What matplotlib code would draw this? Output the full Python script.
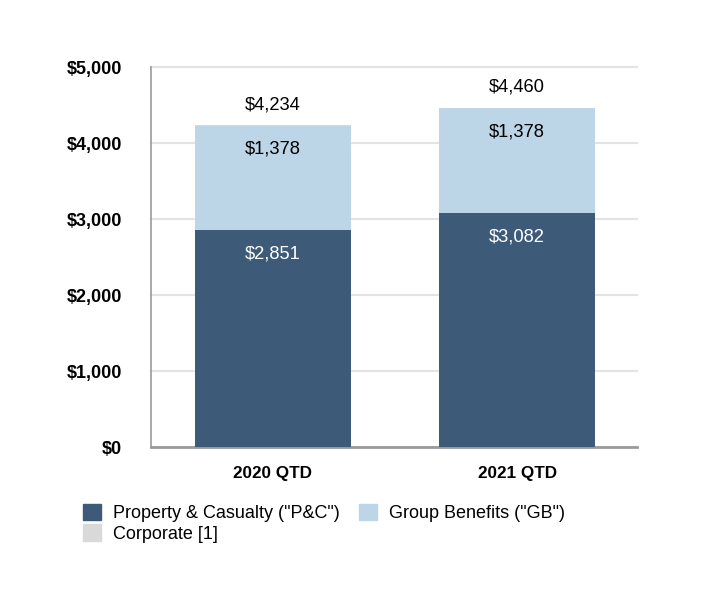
import matplotlib.pyplot as plt
from matplotlib.patches import Patch

plt.rcParams['font.family'] = ['Liberation Sans', 'DejaVu Sans']

categories = ['2020 QTD', '2021 QTD']
pc = [2851, 3082]
gb = [1378, 1378]
corporate = [5, 0]
totals = [4234, 4460]
yticks = [0, 1000, 2000, 3000, 4000, 5000]

c_pc = '#3d5a78'
c_gb = '#bcd6e8'
c_corp = '#d9d9d9'

fig = plt.figure(figsize=(7.02, 6.0), dpi=100)
ax = fig.add_axes([0.215, 0.255, 0.692, 0.633])

x = range(len(categories))
w = 0.64
ax.bar(x, pc, w, color=c_pc, zorder=3)
ax.bar(x, gb, w, bottom=pc, color=c_gb, zorder=3)
base = [a + b for a, b in zip(pc, gb)]
ax.bar(x, corporate, w, bottom=base, color=c_corp, zorder=3)

for i in x:
    ax.annotate(f'${pc[i]:,}', (i, pc[i]), xytext=(0, -17), textcoords='offset points',
                ha='center', va='center', color='white', fontsize=13.2, zorder=4)
    ax.annotate(f'${gb[i]:,}', (i, base[i]), xytext=(0, -17), textcoords='offset points',
                ha='center', va='center', color='black', fontsize=13.2, zorder=4)
    ax.annotate(f'${totals[i]:,}', (i, totals[i]), xytext=(0, 15), textcoords='offset points',
                ha='center', va='center', color='black', fontsize=13.2, zorder=4)

ax.set_xlim(-0.5, 1.49)
ax.set_ylim(0, 5000)
ax.set_yticks(yticks)
ax.set_yticklabels([f'${v:,}' for v in yticks], fontweight='bold', fontsize=13)
ax.set_xticks(list(x))
ax.set_xticklabels(categories, fontweight='bold', fontsize=12.3)
ax.tick_params(axis='y', length=0, pad=21)
ax.tick_params(axis='x', length=0, pad=14)
ax.grid(axis='y', color='#e3e3e3', linewidth=1.5, zorder=0)
for g in ax.get_ygridlines():
    g.set_clip_on(False)
ax.spines['top'].set_visible(False)
ax.spines['right'].set_visible(False)
ax.spines['left'].set_color('#9a9a9a')
ax.spines['left'].set_linewidth(1.2)
ax.spines['bottom'].set_color('#9a9a9a')
ax.spines['bottom'].set_linewidth(2)

handles = [Patch(color=c_pc, label='Property & Casualty ("P&C")'),
           Patch(color=c_corp, label='Corporate [1]'),
           Patch(color=c_gb, label='Group Benefits ("GB")')]
fig.legend(handles=handles, ncol=2, loc='upper left', bbox_to_anchor=(0.118, 0.16),
           frameon=False, fontsize=13, handlelength=1.0, handleheight=1.0,
           handletextpad=0.67, columnspacing=1.05, labelspacing=0.12, borderaxespad=0,
           borderpad=0)

fig.savefig('out.png', dpi=100)
